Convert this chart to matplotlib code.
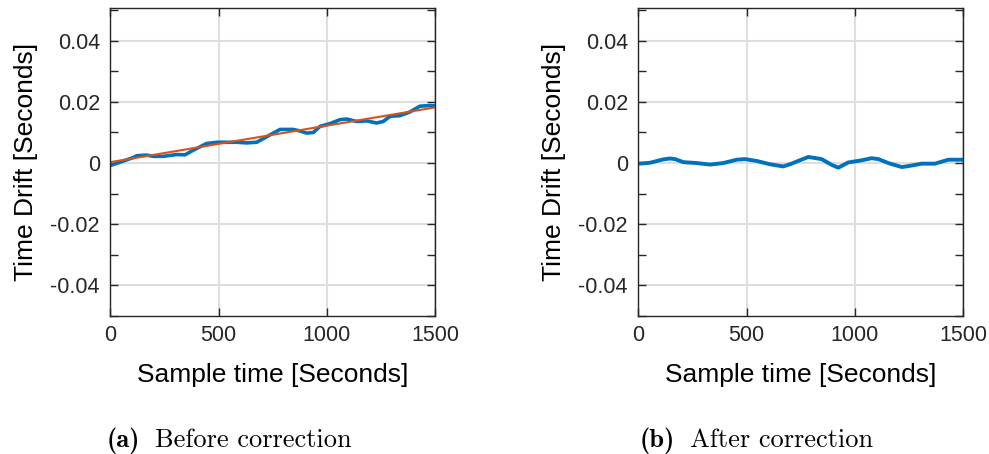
import numpy as np
import matplotlib
matplotlib.use("Agg")
import matplotlib.pyplot as plt
from matplotlib.ticker import FixedLocator, FuncFormatter

plt.rcParams['font.family'] = ['Liberation Sans', 'DejaVu Sans']
plt.rcParams['axes.unicode_minus'] = False
plt.rcParams['mathtext.fontset'] = 'cm'

# ---- Data: panel (a) raw drift ----
t_raw = [0, 45, 106, 122, 168, 199, 245, 307, 345, 383, 445, 492, 538, 584, 630,
         676, 707, 753, 784, 845, 876, 907, 938, 969, 1015, 1061, 1092, 1138,
         1184, 1230, 1261, 1292, 1338, 1384, 1430, 1477, 1500]
drift_raw = [-0.0008, 0.0003, 0.0018, 0.0024, 0.0026, 0.0022, 0.0022, 0.0028,
             0.0027, 0.0042, 0.0064, 0.0068, 0.0068, 0.0068, 0.0066, 0.0068,
             0.0080, 0.0098, 0.0110, 0.0110, 0.0105, 0.0098, 0.0100, 0.0120,
             0.0129, 0.0142, 0.0144, 0.0136, 0.0138, 0.0131, 0.0136, 0.0153,
             0.0155, 0.0167, 0.0186, 0.0188, 0.0187]
# linear fit end points
t_fit = [0, 1500]
drift_fit = [0.0003, 0.0182]

# ---- Data: panel (b) corrected drift ----
t_cor = [0, 54, 115, 146, 169, 208, 270, 331, 392, 454, 492, 546, 608, 669, 700,
         738, 785, 846, 893, 923, 969, 1031, 1077, 1108, 1154, 1216, 1254, 1308,
         1369, 1431, 1493, 1500]
drift_cor = [-0.0002, 0.0001, 0.0012, 0.0015, 0.0013, 0.0003, 0.0, -0.0005, 0.0,
             0.0011, 0.0013, 0.0007, -0.0004, -0.0011, -0.0004, 0.0007, 0.0020,
             0.0013, -0.0006, -0.0015, 0.0002, 0.0009, 0.0016, 0.0013, 0.0,
             -0.0013, -0.0009, -0.0002, -0.0002, 0.0011, 0.0011, 0.0010]

xticks = [0, 500, 1000, 1500]
yticks_major = [-0.04, -0.02, 0, 0.02, 0.04]
yticks_minor = [-0.05, -0.03, -0.01, 0.01, 0.03, 0.05]

BLUE = '#0072BD'
ORANGE = '#D95319'

W, H = 989, 454
fig = plt.figure(figsize=(W / 100, H / 100), dpi=100)

def fmt(v, pos):
    if abs(v) < 1e-12:
        return '0'
    return f'{v:.2f}'

def setup(ax):
    ax.set_xlim(0, 1500)
    ax.set_ylim(-0.05, 0.0507)
    ax.xaxis.set_major_locator(FixedLocator(xticks))
    ax.yaxis.set_major_locator(FixedLocator(yticks_major))
    ax.yaxis.set_minor_locator(FixedLocator(yticks_minor))
    ax.yaxis.set_major_formatter(FuncFormatter(fmt))
    ax.grid(True, which='major', color='#dedede', linewidth=1.5)
    ax.set_axisbelow(True)
    ax.tick_params(which='both', direction='in', top=True, right=True,
                   length=5.5, width=1.0, color='#262626', labelsize=15.5,
                   labelcolor='#262626')
    ax.tick_params(axis='x', pad=6.5)
    ax.tick_params(axis='y', pad=7.5)
    for s in ax.spines.values():
        s.set_color('#262626')
        s.set_linewidth(1.0)

ax1 = fig.add_axes([110.3 / W, (H - 316) / H, 324.7 / W, 308 / H])
ax2 = fig.add_axes([638.3 / W, (H - 316) / H, 325 / W, 308 / H])

for ax in (ax1, ax2):
    setup(ax)

ax1.plot(t_raw, drift_raw, color=BLUE, linewidth=2.6, solid_joinstyle='round')
ax1.plot(t_fit, drift_fit, color=ORANGE, linewidth=1.5)
ax2.plot(t_cor, drift_cor, color=BLUE, linewidth=2.8, solid_joinstyle='round')

for xc, yc_x in ((272.5, 26), (800.8, 554)):
    fig.text(xc / W, 1 - 381.7 / H, 'Sample time [Seconds]', ha='center',
             va='baseline', fontsize=19, color='black')
    fig.text(yc_x / W, 1 - 162 / H, 'Time Drift [Seconds]', ha='center',
             va='center', rotation=90, fontsize=19, color='black')

# captions: bold label + roman text, placed side by side
renderer = fig.canvas.get_renderer()
for left_px, lab, txt in ((107, '(a)', 'Before correction'),
                          (640, '(b)', 'After correction')):
    yb = 1 - 446.7 / H
    t1 = fig.text(left_px / W, yb, lab, ha='left', va='baseline',
                  fontsize=19, family='cmb10')
    bb = t1.get_window_extent(renderer)
    fig.text((bb.x1 + 15) / W, yb, txt, ha='left', va='baseline',
             fontsize=19, family='cmr10')

fig.savefig('out.png', dpi=100)
